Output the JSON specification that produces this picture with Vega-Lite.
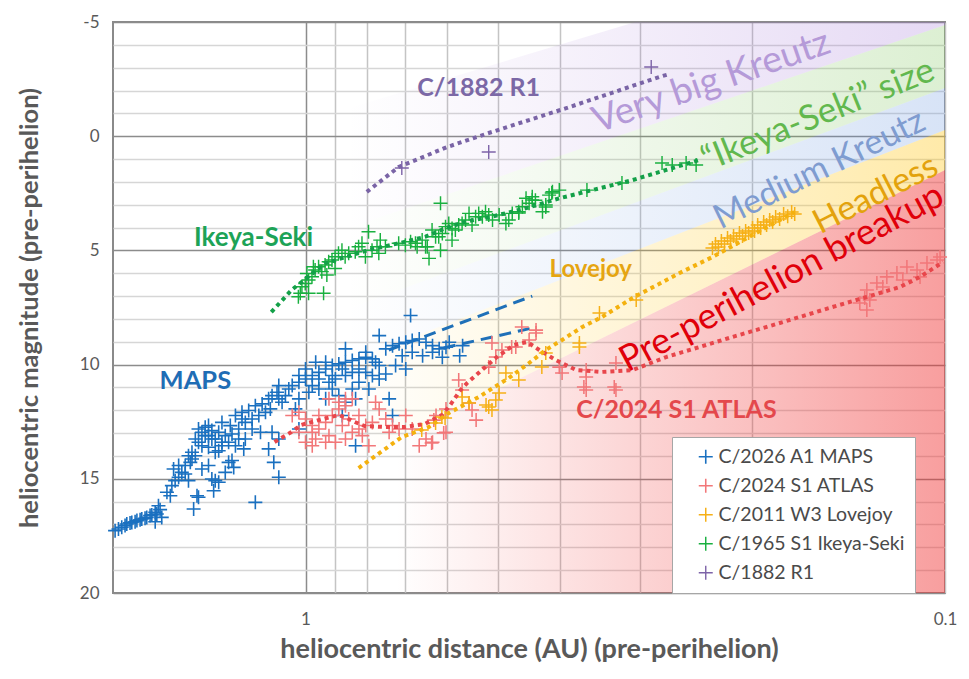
{
  "$schema": "https://vega.github.io/schema/vega-lite/v6.json",
  "width": 832,
  "height": 571,
  "autosize": {"type": "none"},
  "padding": {"left": 113, "top": 22, "right": 24, "bottom": 86},
  "config": {
    "font": "Lato",
    "view": {"stroke": "#8a8a8a", "strokeWidth": 2}
  },
  "datasets": {
    "bands": [
      {"band": "purple", "d": 0.1, "mag": -9.07, "mag2": -4.87},
      {"band": "purple", "d": 2, "mag": 1.87, "mag2": 7.52},
      {"band": "green", "d": 0.1, "mag": -4.87, "mag2": -2.11},
      {"band": "green", "d": 2, "mag": 7.52, "mag2": 11.37},
      {"band": "blue", "d": 0.1, "mag": -2.11, "mag2": -0.27},
      {"band": "blue", "d": 2, "mag": 11.37, "mag2": 13.91},
      {"band": "yellow", "d": 0.1, "mag": -0.27, "mag2": 1.48},
      {"band": "yellow", "d": 2, "mag": 13.91, "mag2": 19.34},
      {"band": "red", "d": 0.1, "mag": 1.48, "mag2": 20},
      {"band": "red", "d": 2, "mag": 19.34, "mag2": 20}
    ],
    "trends": [
      {"series": "maps_a", "d": 0.741, "mag": 9.36}, {"series": "maps_a", "d": 0.442, "mag": 7.0},
      {"series": "maps_b", "d": 0.608, "mag": 9.27}, {"series": "maps_b", "d": 0.442, "mag": 8.4},
      {"series": "atlas", "d": 1.118, "mag": 13.39}, {"series": "atlas", "d": 1.052, "mag": 12.95},
      {"series": "atlas", "d": 1.015, "mag": 12.64}, {"series": "atlas", "d": 0.954, "mag": 12.43},
      {"series": "atlas", "d": 0.888, "mag": 12.21}, {"series": "atlas", "d": 0.869, "mag": 12.29},
      {"series": "atlas", "d": 0.838, "mag": 12.51}, {"series": "atlas", "d": 0.808, "mag": 12.69},
      {"series": "atlas", "d": 0.752, "mag": 12.73}, {"series": "atlas", "d": 0.7, "mag": 12.73},
      {"series": "atlas", "d": 0.651, "mag": 12.6}, {"series": "atlas", "d": 0.612, "mag": 12.21},
      {"series": "atlas", "d": 0.597, "mag": 11.86}, {"series": "atlas", "d": 0.572, "mag": 11.11},
      {"series": "atlas", "d": 0.559, "mag": 10.81}, {"series": "atlas", "d": 0.53, "mag": 10.24},
      {"series": "atlas", "d": 0.502, "mag": 9.67}, {"series": "atlas", "d": 0.472, "mag": 9.14},
      {"series": "atlas", "d": 0.45, "mag": 9.01}, {"series": "atlas", "d": 0.431, "mag": 9.36},
      {"series": "atlas", "d": 0.406, "mag": 9.8}, {"series": "atlas", "d": 0.377, "mag": 10.24},
      {"series": "atlas", "d": 0.344, "mag": 10.32}, {"series": "atlas", "d": 0.308, "mag": 10.24},
      {"series": "atlas", "d": 0.273, "mag": 9.67}, {"series": "atlas", "d": 0.242, "mag": 9.23},
      {"series": "atlas", "d": 0.215, "mag": 8.79}, {"series": "atlas", "d": 0.19, "mag": 8.35},
      {"series": "atlas", "d": 0.169, "mag": 7.92}, {"series": "atlas", "d": 0.15, "mag": 7.48},
      {"series": "atlas", "d": 0.1325, "mag": 7.04}, {"series": "atlas", "d": 0.1176, "mag": 6.6},
      {"series": "atlas", "d": 0.1094, "mag": 6.16}, {"series": "atlas", "d": 0.1007, "mag": 5.51},
      {"series": "lovejoy", "d": 0.826, "mag": 14.53}, {"series": "lovejoy", "d": 0.707, "mag": 13.17},
      {"series": "lovejoy", "d": 0.641, "mag": 12.73}, {"series": "lovejoy", "d": 0.597, "mag": 12.12},
      {"series": "lovejoy", "d": 0.536, "mag": 11.42}, {"series": "lovejoy", "d": 0.481, "mag": 10.59},
      {"series": "lovejoy", "d": 0.447, "mag": 9.93}, {"series": "lovejoy", "d": 0.421, "mag": 9.36},
      {"series": "lovejoy", "d": 0.397, "mag": 8.92}, {"series": "lovejoy", "d": 0.369, "mag": 8.35},
      {"series": "lovejoy", "d": 0.344, "mag": 7.92}, {"series": "lovejoy", "d": 0.308, "mag": 7.08},
      {"series": "lovejoy", "d": 0.26, "mag": 5.99}, {"series": "lovejoy", "d": 0.231, "mag": 5.29},
      {"series": "lovejoy", "d": 0.172, "mag": 3.32},
      {"series": "ikeya", "d": 1.131, "mag": 7.7}, {"series": "ikeya", "d": 1.051, "mag": 6.73},
      {"series": "ikeya", "d": 0.932, "mag": 5.57}, {"series": "ikeya", "d": 0.797, "mag": 4.98},
      {"series": "ikeya", "d": 0.715, "mag": 4.69}, {"series": "ikeya", "d": 0.649, "mag": 4.4},
      {"series": "ikeya", "d": 0.604, "mag": 4.03}, {"series": "ikeya", "d": 0.562, "mag": 3.74},
      {"series": "ikeya", "d": 0.511, "mag": 3.52}, {"series": "ikeya", "d": 0.453, "mag": 3.16},
      {"series": "ikeya", "d": 0.401, "mag": 2.72}, {"series": "ikeya", "d": 0.308, "mag": 1.92},
      {"series": "ikeya", "d": 0.242, "mag": 1.04},
      {"series": "r1", "d": 0.802, "mag": 2.44}, {"series": "r1", "d": 0.715, "mag": 1.35},
      {"series": "r1", "d": 0.6, "mag": 0.47}, {"series": "r1", "d": 0.517, "mag": -0.14},
      {"series": "r1", "d": 0.391, "mag": -1.23}, {"series": "r1", "d": 0.28, "mag": -2.59},
      {"series": "r1", "d": 0.27, "mag": -2.72}
    ],
    "labels": [
      {"text": "C/1882 R1", "d": 0.536, "mag": -2.11},
      {"text": "Ikeya-Seki", "d": 1.206, "mag": 4.46},
      {"text": "MAPS", "d": 1.487, "mag": 10.72},
      {"text": "Lovejoy", "d": 0.358, "mag": 5.86},
      {"text": "C/2024 S1 ATLAS", "d": 0.263, "mag": 11.99},
      {"text": "Very big Kreutz", "d": 0.2318, "mag": -2.37},
      {"text": "“Ikeya-Seki” size", "d": 0.158, "mag": -0.93},
      {"text": "Medium Kreutz", "d": 0.157, "mag": 1.48},
      {"text": "Headless", "d": 0.1283, "mag": 2.57},
      {"text": "Pre-perihelion breakup", "d": 0.18, "mag": 6.21}
    ],
    "points": [
      {"comet": "C/2026 A1 MAPS", "d": 1.985, "mag": 17.27}, {"comet": "C/2026 A1 MAPS", "d": 1.961, "mag": 17.2},
      {"comet": "C/2026 A1 MAPS", "d": 1.938, "mag": 17.12}, {"comet": "C/2026 A1 MAPS", "d": 1.915, "mag": 17.05},
      {"comet": "C/2026 A1 MAPS", "d": 1.903, "mag": 16.98}, {"comet": "C/2026 A1 MAPS", "d": 1.881, "mag": 16.93},
      {"comet": "C/2026 A1 MAPS", "d": 1.869, "mag": 16.91}, {"comet": "C/2026 A1 MAPS", "d": 1.847, "mag": 16.88},
      {"comet": "C/2026 A1 MAPS", "d": 1.835, "mag": 16.83}, {"comet": "C/2026 A1 MAPS", "d": 1.814, "mag": 16.79},
      {"comet": "C/2026 A1 MAPS", "d": 1.803, "mag": 16.76}, {"comet": "C/2026 A1 MAPS", "d": 1.782, "mag": 16.73},
      {"comet": "C/2026 A1 MAPS", "d": 1.771, "mag": 16.69}, {"comet": "C/2026 A1 MAPS", "d": 1.75, "mag": 16.61},
      {"comet": "C/2026 A1 MAPS", "d": 1.739, "mag": 16.58}, {"comet": "C/2026 A1 MAPS", "d": 1.718, "mag": 16.47},
      {"comet": "C/2026 A1 MAPS", "d": 1.708, "mag": 16.54}, {"comet": "C/2026 A1 MAPS", "d": 1.688, "mag": 16.35},
      {"comet": "C/2026 A1 MAPS", "d": 1.678, "mag": 16.69}, {"comet": "C/2026 A1 MAPS", "d": 1.718, "mag": 16.88},
      {"comet": "C/2026 A1 MAPS", "d": 1.698, "mag": 16.18}, {"comet": "C/2026 A1 MAPS", "d": 1.647, "mag": 15.59},
      {"comet": "C/2026 A1 MAPS", "d": 1.627, "mag": 15.74}, {"comet": "C/2026 A1 MAPS", "d": 1.618, "mag": 15.3},
      {"comet": "C/2026 A1 MAPS", "d": 1.599, "mag": 15.08}, {"comet": "C/2026 A1 MAPS", "d": 1.579, "mag": 14.93},
      {"comet": "C/2026 A1 MAPS", "d": 1.561, "mag": 14.72}, {"comet": "C/2026 A1 MAPS", "d": 1.608, "mag": 14.57},
      {"comet": "C/2026 A1 MAPS", "d": 1.542, "mag": 14.79}, {"comet": "C/2026 A1 MAPS", "d": 1.524, "mag": 15.08},
      {"comet": "C/2026 A1 MAPS", "d": 1.514, "mag": 14.28}, {"comet": "C/2026 A1 MAPS", "d": 1.505, "mag": 14.13},
      {"comet": "C/2026 A1 MAPS", "d": 1.487, "mag": 13.99}, {"comet": "C/2026 A1 MAPS", "d": 1.579, "mag": 14.42},
      {"comet": "C/2026 A1 MAPS", "d": 1.478, "mag": 15.74}, {"comet": "C/2026 A1 MAPS", "d": 1.496, "mag": 16.32},
      {"comet": "C/2026 A1 MAPS", "d": 1.47, "mag": 15.81}, {"comet": "C/2026 A1 MAPS", "d": 1.401, "mag": 15.01},
      {"comet": "C/2026 A1 MAPS", "d": 1.367, "mag": 15.15}, {"comet": "C/2026 A1 MAPS", "d": 1.392, "mag": 15.52},
      {"comet": "C/2026 A1 MAPS", "d": 1.384, "mag": 15.08}, {"comet": "C/2026 A1 MAPS", "d": 1.319, "mag": 14.28},
      {"comet": "C/2026 A1 MAPS", "d": 1.295, "mag": 14.5}, {"comet": "C/2026 A1 MAPS", "d": 1.335, "mag": 14.72},
      {"comet": "C/2026 A1 MAPS", "d": 1.303, "mag": 14.2}, {"comet": "C/2026 A1 MAPS", "d": 1.418, "mag": 14.42},
      {"comet": "C/2026 A1 MAPS", "d": 1.452, "mag": 14.57}, {"comet": "C/2026 A1 MAPS", "d": 1.542, "mag": 14.42},
      {"comet": "C/2026 A1 MAPS", "d": 1.47, "mag": 12.82}, {"comet": "C/2026 A1 MAPS", "d": 1.452, "mag": 12.96},
      {"comet": "C/2026 A1 MAPS", "d": 1.435, "mag": 12.74}, {"comet": "C/2026 A1 MAPS", "d": 1.418, "mag": 13.11},
      {"comet": "C/2026 A1 MAPS", "d": 1.401, "mag": 12.89}, {"comet": "C/2026 A1 MAPS", "d": 1.384, "mag": 13.26},
      {"comet": "C/2026 A1 MAPS", "d": 1.367, "mag": 12.96}, {"comet": "C/2026 A1 MAPS", "d": 1.351, "mag": 13.4},
      {"comet": "C/2026 A1 MAPS", "d": 1.335, "mag": 13.11}, {"comet": "C/2026 A1 MAPS", "d": 1.319, "mag": 13.4},
      {"comet": "C/2026 A1 MAPS", "d": 1.303, "mag": 13.04}, {"comet": "C/2026 A1 MAPS", "d": 1.287, "mag": 13.55},
      {"comet": "C/2026 A1 MAPS", "d": 1.272, "mag": 13.26}, {"comet": "C/2026 A1 MAPS", "d": 1.401, "mag": 13.26},
      {"comet": "C/2026 A1 MAPS", "d": 1.435, "mag": 13.11}, {"comet": "C/2026 A1 MAPS", "d": 1.452, "mag": 13.55},
      {"comet": "C/2026 A1 MAPS", "d": 1.418, "mag": 13.62}, {"comet": "C/2026 A1 MAPS", "d": 1.351, "mag": 13.55},
      {"comet": "C/2026 A1 MAPS", "d": 1.487, "mag": 13.26}, {"comet": "C/2026 A1 MAPS", "d": 1.384, "mag": 13.84},
      {"comet": "C/2026 A1 MAPS", "d": 1.249, "mag": 13.69}, {"comet": "C/2026 A1 MAPS", "d": 1.242, "mag": 13.26},
      {"comet": "C/2026 A1 MAPS", "d": 1.272, "mag": 12.82}, {"comet": "C/2026 A1 MAPS", "d": 1.311, "mag": 12.67},
      {"comet": "C/2026 A1 MAPS", "d": 1.351, "mag": 12.53}, {"comet": "C/2026 A1 MAPS", "d": 1.418, "mag": 12.67},
      {"comet": "C/2026 A1 MAPS", "d": 1.47, "mag": 13.4}, {"comet": "C/2026 A1 MAPS", "d": 1.505, "mag": 13.84},
      {"comet": "C/2026 A1 MAPS", "d": 1.524, "mag": 13.99}, {"comet": "C/2026 A1 MAPS", "d": 1.367, "mag": 13.77},
      {"comet": "C/2026 A1 MAPS", "d": 1.287, "mag": 12.23}, {"comet": "C/2026 A1 MAPS", "d": 1.257, "mag": 12.09},
      {"comet": "C/2026 A1 MAPS", "d": 1.227, "mag": 12.01}, {"comet": "C/2026 A1 MAPS", "d": 1.198, "mag": 11.8},
      {"comet": "C/2026 A1 MAPS", "d": 1.169, "mag": 11.72}, {"comet": "C/2026 A1 MAPS", "d": 1.142, "mag": 11.5},
      {"comet": "C/2026 A1 MAPS", "d": 1.128, "mag": 11.36}, {"comet": "C/2026 A1 MAPS", "d": 1.108, "mag": 11.21},
      {"comet": "C/2026 A1 MAPS", "d": 1.101, "mag": 11.5}, {"comet": "C/2026 A1 MAPS", "d": 1.155, "mag": 12.09},
      {"comet": "C/2026 A1 MAPS", "d": 1.183, "mag": 12.23}, {"comet": "C/2026 A1 MAPS", "d": 1.212, "mag": 12.38},
      {"comet": "C/2026 A1 MAPS", "d": 1.088, "mag": 11.65}, {"comet": "C/2026 A1 MAPS", "d": 1.075, "mag": 11.36},
      {"comet": "C/2026 A1 MAPS", "d": 1.062, "mag": 11.07}, {"comet": "C/2026 A1 MAPS", "d": 1.049, "mag": 10.92},
      {"comet": "C/2026 A1 MAPS", "d": 1.101, "mag": 10.92}, {"comet": "C/2026 A1 MAPS", "d": 1.135, "mag": 11.94},
      {"comet": "C/2026 A1 MAPS", "d": 1.176, "mag": 12.96}, {"comet": "C/2026 A1 MAPS", "d": 1.128, "mag": 12.96},
      {"comet": "C/2026 A1 MAPS", "d": 1.101, "mag": 13.26}, {"comet": "C/2026 A1 MAPS", "d": 1.142, "mag": 13.69},
      {"comet": "C/2026 A1 MAPS", "d": 1.242, "mag": 12.53}, {"comet": "C/2026 A1 MAPS", "d": 1.212, "mag": 12.82},
      {"comet": "C/2026 A1 MAPS", "d": 1.257, "mag": 12.38}, {"comet": "C/2026 A1 MAPS", "d": 1.121, "mag": 14.28},
      {"comet": "C/2026 A1 MAPS", "d": 1.101, "mag": 14.93}, {"comet": "C/2026 A1 MAPS", "d": 1.198, "mag": 16.03},
      {"comet": "C/2026 A1 MAPS", "d": 1.024, "mag": 12.82}, {"comet": "C/2026 A1 MAPS", "d": 0.835, "mag": 13.55},
      {"comet": "C/2026 A1 MAPS", "d": 1.024, "mag": 10.77}, {"comet": "C/2026 A1 MAPS", "d": 1.0, "mag": 10.63},
      {"comet": "C/2026 A1 MAPS", "d": 0.976, "mag": 10.48}, {"comet": "C/2026 A1 MAPS", "d": 0.953, "mag": 10.34},
      {"comet": "C/2026 A1 MAPS", "d": 0.93, "mag": 10.19}, {"comet": "C/2026 A1 MAPS", "d": 0.908, "mag": 10.04},
      {"comet": "C/2026 A1 MAPS", "d": 0.887, "mag": 9.97}, {"comet": "C/2026 A1 MAPS", "d": 0.866, "mag": 9.9},
      {"comet": "C/2026 A1 MAPS", "d": 0.845, "mag": 9.82}, {"comet": "C/2026 A1 MAPS", "d": 0.825, "mag": 9.75},
      {"comet": "C/2026 A1 MAPS", "d": 0.805, "mag": 9.68}, {"comet": "C/2026 A1 MAPS", "d": 0.786, "mag": 9.75},
      {"comet": "C/2026 A1 MAPS", "d": 0.777, "mag": 9.9}, {"comet": "C/2026 A1 MAPS", "d": 0.976, "mag": 10.92},
      {"comet": "C/2026 A1 MAPS", "d": 0.953, "mag": 11.07}, {"comet": "C/2026 A1 MAPS", "d": 0.919, "mag": 10.77},
      {"comet": "C/2026 A1 MAPS", "d": 0.898, "mag": 10.63}, {"comet": "C/2026 A1 MAPS", "d": 0.866, "mag": 10.48},
      {"comet": "C/2026 A1 MAPS", "d": 0.845, "mag": 10.34}, {"comet": "C/2026 A1 MAPS", "d": 0.825, "mag": 10.77},
      {"comet": "C/2026 A1 MAPS", "d": 0.805, "mag": 10.34}, {"comet": "C/2026 A1 MAPS", "d": 0.786, "mag": 10.48},
      {"comet": "C/2026 A1 MAPS", "d": 0.767, "mag": 10.04}, {"comet": "C/2026 A1 MAPS", "d": 0.93, "mag": 9.9},
      {"comet": "C/2026 A1 MAPS", "d": 0.964, "mag": 9.9}, {"comet": "C/2026 A1 MAPS", "d": 0.988, "mag": 11.21},
      {"comet": "C/2026 A1 MAPS", "d": 1.024, "mag": 11.5}, {"comet": "C/2026 A1 MAPS", "d": 1.037, "mag": 11.94},
      {"comet": "C/2026 A1 MAPS", "d": 0.93, "mag": 11.5}, {"comet": "C/2026 A1 MAPS", "d": 0.887, "mag": 11.36},
      {"comet": "C/2026 A1 MAPS", "d": 0.866, "mag": 11.65}, {"comet": "C/2026 A1 MAPS", "d": 0.835, "mag": 11.5},
      {"comet": "C/2026 A1 MAPS", "d": 0.876, "mag": 12.23}, {"comet": "C/2026 A1 MAPS", "d": 0.845, "mag": 11.07},
      {"comet": "C/2026 A1 MAPS", "d": 0.796, "mag": 11.07}, {"comet": "C/2026 A1 MAPS", "d": 0.767, "mag": 10.63},
      {"comet": "C/2026 A1 MAPS", "d": 0.749, "mag": 10.41}, {"comet": "C/2026 A1 MAPS", "d": 0.74, "mag": 11.5},
      {"comet": "C/2026 A1 MAPS", "d": 0.731, "mag": 12.23}, {"comet": "C/2026 A1 MAPS", "d": 0.866, "mag": 9.31},
      {"comet": "C/2026 A1 MAPS", "d": 0.805, "mag": 9.46}, {"comet": "C/2026 A1 MAPS", "d": 1.0, "mag": 10.19},
      {"comet": "C/2026 A1 MAPS", "d": 1.024, "mag": 10.48}, {"comet": "C/2026 A1 MAPS", "d": 0.953, "mag": 10.63},
      {"comet": "C/2026 A1 MAPS", "d": 0.908, "mag": 10.48}, {"comet": "C/2026 A1 MAPS", "d": 0.876, "mag": 10.19},
      {"comet": "C/2026 A1 MAPS", "d": 0.825, "mag": 10.19}, {"comet": "C/2026 A1 MAPS", "d": 0.908, "mag": 11.07},
      {"comet": "C/2026 A1 MAPS", "d": 0.749, "mag": 9.31}, {"comet": "C/2026 A1 MAPS", "d": 0.731, "mag": 9.17},
      {"comet": "C/2026 A1 MAPS", "d": 0.714, "mag": 9.09}, {"comet": "C/2026 A1 MAPS", "d": 0.697, "mag": 9.02},
      {"comet": "C/2026 A1 MAPS", "d": 0.681, "mag": 8.95}, {"comet": "C/2026 A1 MAPS", "d": 0.664, "mag": 8.88},
      {"comet": "C/2026 A1 MAPS", "d": 0.648, "mag": 9.02}, {"comet": "C/2026 A1 MAPS", "d": 0.633, "mag": 9.17},
      {"comet": "C/2026 A1 MAPS", "d": 0.618, "mag": 9.31}, {"comet": "C/2026 A1 MAPS", "d": 0.603, "mag": 9.24},
      {"comet": "C/2026 A1 MAPS", "d": 0.706, "mag": 9.61}, {"comet": "C/2026 A1 MAPS", "d": 0.681, "mag": 9.46},
      {"comet": "C/2026 A1 MAPS", "d": 0.656, "mag": 9.61}, {"comet": "C/2026 A1 MAPS", "d": 0.633, "mag": 9.46},
      {"comet": "C/2026 A1 MAPS", "d": 0.611, "mag": 9.68}, {"comet": "C/2026 A1 MAPS", "d": 0.723, "mag": 10.04},
      {"comet": "C/2026 A1 MAPS", "d": 0.697, "mag": 10.19}, {"comet": "C/2026 A1 MAPS", "d": 0.767, "mag": 8.73},
      {"comet": "C/2026 A1 MAPS", "d": 0.685, "mag": 7.85}, {"comet": "C/2026 A1 MAPS", "d": 0.596, "mag": 9.02},
      {"comet": "C/2026 A1 MAPS", "d": 0.568, "mag": 9.17}, {"comet": "C/2026 A1 MAPS", "d": 0.574, "mag": 9.61},
      {"comet": "C/2024 S1 ATLAS", "d": 1.049, "mag": 12.23}, {"comet": "C/2024 S1 ATLAS", "d": 1.024, "mag": 12.09},
      {"comet": "C/2024 S1 ATLAS", "d": 1.0, "mag": 12.38}, {"comet": "C/2024 S1 ATLAS", "d": 0.976, "mag": 12.67},
      {"comet": "C/2024 S1 ATLAS", "d": 0.953, "mag": 12.82}, {"comet": "C/2024 S1 ATLAS", "d": 0.93, "mag": 12.53},
      {"comet": "C/2024 S1 ATLAS", "d": 0.908, "mag": 12.23}, {"comet": "C/2024 S1 ATLAS", "d": 0.887, "mag": 11.94},
      {"comet": "C/2024 S1 ATLAS", "d": 0.866, "mag": 11.8}, {"comet": "C/2024 S1 ATLAS", "d": 0.845, "mag": 11.5},
      {"comet": "C/2024 S1 ATLAS", "d": 0.876, "mag": 12.67}, {"comet": "C/2024 S1 ATLAS", "d": 0.919, "mag": 13.11},
      {"comet": "C/2024 S1 ATLAS", "d": 0.964, "mag": 13.26}, {"comet": "C/2024 S1 ATLAS", "d": 1.0, "mag": 13.4},
      {"comet": "C/2024 S1 ATLAS", "d": 1.024, "mag": 12.96}, {"comet": "C/2024 S1 ATLAS", "d": 0.976, "mag": 13.55},
      {"comet": "C/2024 S1 ATLAS", "d": 0.93, "mag": 13.4}, {"comet": "C/2024 S1 ATLAS", "d": 0.898, "mag": 13.4},
      {"comet": "C/2024 S1 ATLAS", "d": 0.866, "mag": 13.26}, {"comet": "C/2024 S1 ATLAS", "d": 0.845, "mag": 12.96},
      {"comet": "C/2024 S1 ATLAS", "d": 0.825, "mag": 12.82}, {"comet": "C/2024 S1 ATLAS", "d": 0.805, "mag": 12.67},
      {"comet": "C/2024 S1 ATLAS", "d": 0.786, "mag": 12.53}, {"comet": "C/2024 S1 ATLAS", "d": 0.767, "mag": 11.94},
      {"comet": "C/2024 S1 ATLAS", "d": 0.777, "mag": 11.65}, {"comet": "C/2024 S1 ATLAS", "d": 0.749, "mag": 12.38},
      {"comet": "C/2024 S1 ATLAS", "d": 0.731, "mag": 12.67}, {"comet": "C/2024 S1 ATLAS", "d": 0.714, "mag": 12.82},
      {"comet": "C/2024 S1 ATLAS", "d": 0.697, "mag": 12.23}, {"comet": "C/2024 S1 ATLAS", "d": 0.681, "mag": 12.82},
      {"comet": "C/2024 S1 ATLAS", "d": 0.664, "mag": 13.55}, {"comet": "C/2024 S1 ATLAS", "d": 0.648, "mag": 13.26},
      {"comet": "C/2024 S1 ATLAS", "d": 0.633, "mag": 13.4}, {"comet": "C/2024 S1 ATLAS", "d": 0.625, "mag": 12.23},
      {"comet": "C/2024 S1 ATLAS", "d": 0.603, "mag": 12.96}, {"comet": "C/2024 S1 ATLAS", "d": 0.603, "mag": 11.94},
      {"comet": "C/2024 S1 ATLAS", "d": 0.815, "mag": 13.11}, {"comet": "C/2024 S1 ATLAS", "d": 0.796, "mag": 13.55},
      {"comet": "C/2024 S1 ATLAS", "d": 0.74, "mag": 12.96}, {"comet": "C/2024 S1 ATLAS", "d": 0.919, "mag": 11.5},
      {"comet": "C/2024 S1 ATLAS", "d": 0.976, "mag": 12.96}, {"comet": "C/2024 S1 ATLAS", "d": 0.953, "mag": 12.23},
      {"comet": "C/2024 S1 ATLAS", "d": 0.856, "mag": 12.38}, {"comet": "C/2024 S1 ATLAS", "d": 0.825, "mag": 12.23},
      {"comet": "C/2024 S1 ATLAS", "d": 0.887, "mag": 11.65}, {"comet": "C/2024 S1 ATLAS", "d": 0.866, "mag": 11.5},
      {"comet": "C/2024 S1 ATLAS", "d": 0.635, "mag": 13.43}, {"comet": "C/2024 S1 ATLAS", "d": 0.608, "mag": 12.99},
      {"comet": "C/2024 S1 ATLAS", "d": 0.63, "mag": 12.43}, {"comet": "C/2024 S1 ATLAS", "d": 0.576, "mag": 10.67},
      {"comet": "C/2024 S1 ATLAS", "d": 0.569, "mag": 11.11}, {"comet": "C/2024 S1 ATLAS", "d": 0.555, "mag": 11.68},
      {"comet": "C/2024 S1 ATLAS", "d": 0.541, "mag": 12.43}, {"comet": "C/2024 S1 ATLAS", "d": 0.549, "mag": 11.99},
      {"comet": "C/2024 S1 ATLAS", "d": 0.517, "mag": 10.11}, {"comet": "C/2024 S1 ATLAS", "d": 0.511, "mag": 9.05},
      {"comet": "C/2024 S1 ATLAS", "d": 0.504, "mag": 9.67}, {"comet": "C/2024 S1 ATLAS", "d": 0.493, "mag": 9.36},
      {"comet": "C/2024 S1 ATLAS", "d": 0.469, "mag": 9.23}, {"comet": "C/2024 S1 ATLAS", "d": 0.476, "mag": 9.23},
      {"comet": "C/2024 S1 ATLAS", "d": 0.459, "mag": 8.35}, {"comet": "C/2024 S1 ATLAS", "d": 0.447, "mag": 8.92},
      {"comet": "C/2024 S1 ATLAS", "d": 0.436, "mag": 8.49}, {"comet": "C/2024 S1 ATLAS", "d": 0.401, "mag": 10.11},
      {"comet": "C/2024 S1 ATLAS", "d": 0.397, "mag": 10.37}, {"comet": "C/2024 S1 ATLAS", "d": 0.364, "mag": 10.24},
      {"comet": "C/2024 S1 ATLAS", "d": 0.367, "mag": 10.98}, {"comet": "C/2024 S1 ATLAS", "d": 0.327, "mag": 9.93},
      {"comet": "C/2024 S1 ATLAS", "d": 0.329, "mag": 10.98}, {"comet": "C/2024 S1 ATLAS", "d": 0.364, "mag": 11.11},
      {"comet": "C/2024 S1 ATLAS", "d": 0.436, "mag": 8.62}, {"comet": "C/2024 S1 ATLAS", "d": 0.364, "mag": 10.54},
      {"comet": "C/2024 S1 ATLAS", "d": 0.327, "mag": 11.11},
      {"comet": "C/2024 S1 ATLAS", "d": 0.1359, "mag": 7.3}, {"comet": "C/2024 S1 ATLAS", "d": 0.1325, "mag": 7.61},
      {"comet": "C/2024 S1 ATLAS", "d": 0.1335, "mag": 7.08}, {"comet": "C/2024 S1 ATLAS", "d": 0.1278, "mag": 6.43},
      {"comet": "C/2024 S1 ATLAS", "d": 0.1251, "mag": 6.6}, {"comet": "C/2024 S1 ATLAS", "d": 0.1233, "mag": 6.16},
      {"comet": "C/2024 S1 ATLAS", "d": 0.1189, "mag": 5.99}, {"comet": "C/2024 S1 ATLAS", "d": 0.1164, "mag": 6.3},
      {"comet": "C/2024 S1 ATLAS", "d": 0.1147, "mag": 5.73}, {"comet": "C/2024 S1 ATLAS", "d": 0.1106, "mag": 5.86},
      {"comet": "C/2024 S1 ATLAS", "d": 0.1094, "mag": 6.16}, {"comet": "C/2024 S1 ATLAS", "d": 0.1067, "mag": 5.55},
      {"comet": "C/2024 S1 ATLAS", "d": 0.1029, "mag": 5.42}, {"comet": "C/2024 S1 ATLAS", "d": 0.1018, "mag": 5.29},
      {"comet": "C/2024 S1 ATLAS", "d": 0.1325, "mag": 6.73}, {"comet": "C/2024 S1 ATLAS", "d": 0.1311, "mag": 7.17},
      {"comet": "C/2011 W3 Lovejoy", "d": 0.658, "mag": 12.86}, {"comet": "C/2011 W3 Lovejoy", "d": 0.626, "mag": 12.56},
      {"comet": "C/2011 W3 Lovejoy", "d": 0.612, "mag": 12.29}, {"comet": "C/2011 W3 Lovejoy", "d": 0.605, "mag": 12.34},
      {"comet": "C/2011 W3 Lovejoy", "d": 0.569, "mag": 11.42}, {"comet": "C/2011 W3 Lovejoy", "d": 0.555, "mag": 11.68},
      {"comet": "C/2011 W3 Lovejoy", "d": 0.517, "mag": 11.86}, {"comet": "C/2011 W3 Lovejoy", "d": 0.504, "mag": 11.55},
      {"comet": "C/2011 W3 Lovejoy", "d": 0.498, "mag": 11.24}, {"comet": "C/2011 W3 Lovejoy", "d": 0.486, "mag": 10.37},
      {"comet": "C/2011 W3 Lovejoy", "d": 0.464, "mag": 10.67}, {"comet": "C/2011 W3 Lovejoy", "d": 0.427, "mag": 10.11},
      {"comet": "C/2011 W3 Lovejoy", "d": 0.421, "mag": 9.49}, {"comet": "C/2011 W3 Lovejoy", "d": 0.373, "mag": 9.05},
      {"comet": "C/2011 W3 Lovejoy", "d": 0.373, "mag": 9.23}, {"comet": "C/2011 W3 Lovejoy", "d": 0.347, "mag": 7.74},
      {"comet": "C/2011 W3 Lovejoy", "d": 0.304, "mag": 7.17}, {"comet": "C/2011 W3 Lovejoy", "d": 0.522, "mag": 11.77},
      {"comet": "C/2011 W3 Lovejoy", "d": 0.511, "mag": 11.99},
      {"comet": "C/2011 W3 Lovejoy", "d": 0.231, "mag": 4.9}, {"comet": "C/2011 W3 Lovejoy", "d": 0.2285, "mag": 4.72},
      {"comet": "C/2011 W3 Lovejoy", "d": 0.2261, "mag": 4.85}, {"comet": "C/2011 W3 Lovejoy", "d": 0.2237, "mag": 4.59},
      {"comet": "C/2011 W3 Lovejoy", "d": 0.2212, "mag": 4.72}, {"comet": "C/2011 W3 Lovejoy", "d": 0.2188, "mag": 4.46},
      {"comet": "C/2011 W3 Lovejoy", "d": 0.2165, "mag": 4.59}, {"comet": "C/2011 W3 Lovejoy", "d": 0.2141, "mag": 4.37},
      {"comet": "C/2011 W3 Lovejoy", "d": 0.2118, "mag": 4.5}, {"comet": "C/2011 W3 Lovejoy", "d": 0.2096, "mag": 4.24},
      {"comet": "C/2011 W3 Lovejoy", "d": 0.2073, "mag": 4.37}, {"comet": "C/2011 W3 Lovejoy", "d": 0.205, "mag": 4.15},
      {"comet": "C/2011 W3 Lovejoy", "d": 0.2028, "mag": 4.24}, {"comet": "C/2011 W3 Lovejoy", "d": 0.2, "mag": 4.02},
      {"comet": "C/2011 W3 Lovejoy", "d": 0.1985, "mag": 4.15}, {"comet": "C/2011 W3 Lovejoy", "d": 0.1963, "mag": 3.89},
      {"comet": "C/2011 W3 Lovejoy", "d": 0.1942, "mag": 4.02}, {"comet": "C/2011 W3 Lovejoy", "d": 0.1921, "mag": 3.76},
      {"comet": "C/2011 W3 Lovejoy", "d": 0.1901, "mag": 3.89}, {"comet": "C/2011 W3 Lovejoy", "d": 0.188, "mag": 3.67},
      {"comet": "C/2011 W3 Lovejoy", "d": 0.186, "mag": 3.76}, {"comet": "C/2011 W3 Lovejoy", "d": 0.184, "mag": 3.54},
      {"comet": "C/2011 W3 Lovejoy", "d": 0.1814, "mag": 3.63}, {"comet": "C/2011 W3 Lovejoy", "d": 0.1788, "mag": 3.41},
      {"comet": "C/2011 W3 Lovejoy", "d": 0.1762, "mag": 3.5}, {"comet": "C/2011 W3 Lovejoy", "d": 0.1737, "mag": 3.32},
      {"comet": "C/2011 W3 Lovejoy", "d": 0.1718, "mag": 3.41},
      {"comet": "C/1965 S1 Ikeya-Seki", "d": 1.026, "mag": 7.03}, {"comet": "C/1965 S1 Ikeya-Seki", "d": 1.013, "mag": 6.59},
      {"comet": "C/1965 S1 Ikeya-Seki", "d": 1.001, "mag": 6.45}, {"comet": "C/1965 S1 Ikeya-Seki", "d": 0.989, "mag": 6.3},
      {"comet": "C/1965 S1 Ikeya-Seki", "d": 0.977, "mag": 6.15}, {"comet": "C/1965 S1 Ikeya-Seki", "d": 0.995, "mag": 6.01},
      {"comet": "C/1965 S1 Ikeya-Seki", "d": 0.966, "mag": 5.86}, {"comet": "C/1965 S1 Ikeya-Seki", "d": 0.954, "mag": 5.72},
      {"comet": "C/1965 S1 Ikeya-Seki", "d": 0.932, "mag": 5.64}, {"comet": "C/1965 S1 Ikeya-Seki", "d": 0.92, "mag": 5.5},
      {"comet": "C/1965 S1 Ikeya-Seki", "d": 0.909, "mag": 5.42}, {"comet": "C/1965 S1 Ikeya-Seki", "d": 0.943, "mag": 5.93},
      {"comet": "C/1965 S1 Ikeya-Seki", "d": 0.937, "mag": 6.88}, {"comet": "C/1965 S1 Ikeya-Seki", "d": 0.899, "mag": 5.28},
      {"comet": "C/1965 S1 Ikeya-Seki", "d": 0.888, "mag": 5.13}, {"comet": "C/1965 S1 Ikeya-Seki", "d": 0.877, "mag": 4.99},
      {"comet": "C/1965 S1 Ikeya-Seki", "d": 0.867, "mag": 5.28}, {"comet": "C/1965 S1 Ikeya-Seki", "d": 0.856, "mag": 5.13},
      {"comet": "C/1965 S1 Ikeya-Seki", "d": 0.836, "mag": 5.06}, {"comet": "C/1965 S1 Ikeya-Seki", "d": 0.826, "mag": 4.84},
      {"comet": "C/1965 S1 Ikeya-Seki", "d": 0.816, "mag": 4.69}, {"comet": "C/1965 S1 Ikeya-Seki", "d": 0.797, "mag": 4.18},
      {"comet": "C/1965 S1 Ikeya-Seki", "d": 0.806, "mag": 5.28}, {"comet": "C/1965 S1 Ikeya-Seki", "d": 0.787, "mag": 4.99},
      {"comet": "C/1965 S1 Ikeya-Seki", "d": 0.773, "mag": 4.84}, {"comet": "C/1965 S1 Ikeya-Seki", "d": 0.764, "mag": 4.55},
      {"comet": "C/1965 S1 Ikeya-Seki", "d": 0.75, "mag": 4.84}, {"comet": "C/1965 S1 Ikeya-Seki", "d": 0.768, "mag": 5.13},
      {"comet": "C/1965 S1 Ikeya-Seki", "d": 0.972, "mag": 5.72}, {"comet": "C/1965 S1 Ikeya-Seki", "d": 0.989, "mag": 6.88},
      {"comet": "C/1965 S1 Ikeya-Seki", "d": 1.019, "mag": 6.88}, {"comet": "C/1965 S1 Ikeya-Seki", "d": 0.926, "mag": 6.08},
      {"comet": "C/1965 S1 Ikeya-Seki", "d": 0.899, "mag": 5.79}, {"comet": "C/1965 S1 Ikeya-Seki", "d": 0.715, "mag": 4.69},
      {"comet": "C/1965 S1 Ikeya-Seki", "d": 0.698, "mag": 4.77}, {"comet": "C/1965 S1 Ikeya-Seki", "d": 0.685, "mag": 4.62},
      {"comet": "C/1965 S1 Ikeya-Seki", "d": 0.673, "mag": 4.69}, {"comet": "C/1965 S1 Ikeya-Seki", "d": 0.657, "mag": 4.55},
      {"comet": "C/1965 S1 Ikeya-Seki", "d": 0.649, "mag": 4.84}, {"comet": "C/1965 S1 Ikeya-Seki", "d": 0.641, "mag": 5.35},
      {"comet": "C/1965 S1 Ikeya-Seki", "d": 0.619, "mag": 4.4}, {"comet": "C/1965 S1 Ikeya-Seki", "d": 0.634, "mag": 4.11},
      {"comet": "C/1965 S1 Ikeya-Seki", "d": 0.626, "mag": 4.4}, {"comet": "C/1965 S1 Ikeya-Seki", "d": 0.611, "mag": 4.26},
      {"comet": "C/1965 S1 Ikeya-Seki", "d": 0.604, "mag": 3.96}, {"comet": "C/1965 S1 Ikeya-Seki", "d": 0.597, "mag": 3.82},
      {"comet": "C/1965 S1 Ikeya-Seki", "d": 0.59, "mag": 4.04}, {"comet": "C/1965 S1 Ikeya-Seki", "d": 0.583, "mag": 4.11},
      {"comet": "C/1965 S1 Ikeya-Seki", "d": 0.576, "mag": 3.89}, {"comet": "C/1965 S1 Ikeya-Seki", "d": 0.569, "mag": 3.82},
      {"comet": "C/1965 S1 Ikeya-Seki", "d": 0.562, "mag": 3.67}, {"comet": "C/1965 S1 Ikeya-Seki", "d": 0.555, "mag": 3.38},
      {"comet": "C/1965 S1 Ikeya-Seki", "d": 0.549, "mag": 3.89}, {"comet": "C/1965 S1 Ikeya-Seki", "d": 0.542, "mag": 3.53},
      {"comet": "C/1965 S1 Ikeya-Seki", "d": 0.536, "mag": 3.38}, {"comet": "C/1965 S1 Ikeya-Seki", "d": 0.529, "mag": 3.53},
      {"comet": "C/1965 S1 Ikeya-Seki", "d": 0.523, "mag": 3.31}, {"comet": "C/1965 S1 Ikeya-Seki", "d": 0.517, "mag": 3.45},
      {"comet": "C/1965 S1 Ikeya-Seki", "d": 0.51, "mag": 3.67}, {"comet": "C/1965 S1 Ikeya-Seki", "d": 0.498, "mag": 3.45},
      {"comet": "C/1965 S1 Ikeya-Seki", "d": 0.486, "mag": 3.82}, {"comet": "C/1965 S1 Ikeya-Seki", "d": 0.475, "mag": 3.38},
      {"comet": "C/1965 S1 Ikeya-Seki", "d": 0.464, "mag": 3.31}, {"comet": "C/1965 S1 Ikeya-Seki", "d": 0.458, "mag": 3.09},
      {"comet": "C/1965 S1 Ikeya-Seki", "d": 0.452, "mag": 2.72}, {"comet": "C/1965 S1 Ikeya-Seki", "d": 0.447, "mag": 2.94},
      {"comet": "C/1965 S1 Ikeya-Seki", "d": 0.442, "mag": 2.65}, {"comet": "C/1965 S1 Ikeya-Seki", "d": 0.437, "mag": 2.8},
      {"comet": "C/1965 S1 Ikeya-Seki", "d": 0.426, "mag": 3.31}, {"comet": "C/1965 S1 Ikeya-Seki", "d": 0.421, "mag": 3.01},
      {"comet": "C/1965 S1 Ikeya-Seki", "d": 0.416, "mag": 2.58}, {"comet": "C/1965 S1 Ikeya-Seki", "d": 0.411, "mag": 2.43},
      {"comet": "C/1965 S1 Ikeya-Seki", "d": 0.401, "mag": 2.36}, {"comet": "C/1965 S1 Ikeya-Seki", "d": 0.615, "mag": 2.94},
      {"comet": "C/1965 S1 Ikeya-Seki", "d": 0.59, "mag": 4.55}, {"comet": "C/1965 S1 Ikeya-Seki", "d": 0.615, "mag": 4.99},
      {"comet": "C/1965 S1 Ikeya-Seki", "d": 0.645, "mag": 4.84}, {"comet": "C/1965 S1 Ikeya-Seki", "d": 0.669, "mag": 4.84},
      {"comet": "C/1965 S1 Ikeya-Seki", "d": 0.481, "mag": 3.67}, {"comet": "C/1965 S1 Ikeya-Seki", "d": 0.464, "mag": 3.36},
      {"comet": "C/1965 S1 Ikeya-Seki", "d": 0.442, "mag": 2.79}, {"comet": "C/1965 S1 Ikeya-Seki", "d": 0.421, "mag": 3.1},
      {"comet": "C/1965 S1 Ikeya-Seki", "d": 0.412, "mag": 2.49}, {"comet": "C/1965 S1 Ikeya-Seki", "d": 0.363, "mag": 2.36},
      {"comet": "C/1965 S1 Ikeya-Seki", "d": 0.32, "mag": 2.05}, {"comet": "C/1965 S1 Ikeya-Seki", "d": 0.277, "mag": 1.17},
      {"comet": "C/1965 S1 Ikeya-Seki", "d": 0.267, "mag": 1.26}, {"comet": "C/1965 S1 Ikeya-Seki", "d": 0.254, "mag": 1.17},
      {"comet": "C/1965 S1 Ikeya-Seki", "d": 0.245, "mag": 1.26},
      {"comet": "C/1882 R1", "d": 0.707, "mag": 1.39}, {"comet": "C/1882 R1", "d": 0.517, "mag": 0.69},
      {"comet": "C/1882 R1", "d": 0.288, "mag": -3.03}
    ]
  },
  "encoding": {
    "x": {
      "field": "d",
      "type": "quantitative",
      "scale": {"type": "log", "domain": [0.1, 2], "reverse": true, "nice": false},
      "axis": {
        "title": "heliocentric distance (AU) (pre-perihelion)",
        "values": [1, 0.9, 0.8, 0.7, 0.6, 0.5, 0.4, 0.3, 0.2, 0.1],
        "labelExpr": "datum.value > 0.95 ? '1' : (datum.value < 0.105 ? '0.1' : '')",
        "labelOverlap": false,
        "labelFlush": false,
        "ticks": false,
        "domain": false,
        "grid": true,
        "gridColor": {"condition": {"test": "datum.value > 0.95", "value": "#8c8c8c"}, "value": "#c4c4c4"},
        "gridWidth": 1.5,
        "labelFontSize": 17,
        "labelColor": "#595959",
        "labelPadding": 18,
        "titleFontSize": 27,
        "titleFontWeight": "bold",
        "titleColor": "#595959",
        "titlePadding": 9
      }
    },
    "y": {
      "field": "mag",
      "type": "quantitative",
      "scale": {"domain": [-5, 20], "reverse": true, "nice": false},
      "axis": {
        "title": "heliocentric magnitude (pre-perihelion)",
        "values": [-5, -4, -3, -2, -1, 0, 1, 2, 3, 4, 5, 6, 7, 8, 9, 10, 11, 12, 13, 14, 15, 16, 17, 18, 19, 20],
        "labelExpr": "datum.value % 5 === 0 ? '' + datum.value : ''",
        "labelOverlap": false,
        "labelFlush": false,
        "ticks": false,
        "domain": false,
        "grid": true,
        "gridColor": {"condition": {"test": "datum.value % 5 === 0", "value": "#8c8c8c"}, "value": "#d6d6d6"},
        "gridWidth": 1.5,
        "labelFontSize": 17,
        "labelColor": "#595959",
        "labelPadding": 14,
        "titleFontSize": 25.5,
        "titleFontWeight": "bold",
        "titleColor": "#595959",
        "titlePadding": 37
      }
    }
  },
  "layer": [
    {
      "data": {"name": "bands"},
      "transform": [{"filter": "datum.band === 'red'"}],
      "mark": {"type": "area", "clip": true, "color": {"gradient": "linear", "x1": 0, "y1": 0, "x2": 1, "y2": 0, "stops": [{"offset": 0, "color": "rgba(240,50,50,0)"}, {"offset": 0.34, "color": "rgba(240,50,50,0)"}, {"offset": 1, "color": "rgba(240,50,50,0.47)"}]}},
      "encoding": {"y2": {"field": "mag2"}}
    },
    {
      "data": {"name": "bands"},
      "transform": [{"filter": "datum.band === 'yellow'"}],
      "mark": {"type": "area", "clip": true, "color": {"gradient": "linear", "x1": 0, "y1": 0, "x2": 1, "y2": 0, "stops": [{"offset": 0, "color": "rgba(255,200,30,0)"}, {"offset": 0.28, "color": "rgba(255,200,30,0)"}, {"offset": 1, "color": "rgba(255,200,30,0.38)"}]}},
      "encoding": {"y2": {"field": "mag2"}}
    },
    {
      "data": {"name": "bands"},
      "transform": [{"filter": "datum.band === 'blue'"}],
      "mark": {"type": "area", "clip": true, "color": {"gradient": "linear", "x1": 0, "y1": 0, "x2": 1, "y2": 0, "stops": [{"offset": 0, "color": "rgba(90,140,220,0)"}, {"offset": 0.28, "color": "rgba(90,140,220,0)"}, {"offset": 1, "color": "rgba(90,140,220,0.24)"}]}},
      "encoding": {"y2": {"field": "mag2"}}
    },
    {
      "data": {"name": "bands"},
      "transform": [{"filter": "datum.band === 'green'"}],
      "mark": {"type": "area", "clip": true, "color": {"gradient": "linear", "x1": 0, "y1": 0, "x2": 1, "y2": 0, "stops": [{"offset": 0, "color": "rgba(110,190,70,0)"}, {"offset": 0.28, "color": "rgba(110,190,70,0)"}, {"offset": 1, "color": "rgba(110,190,70,0.24)"}]}},
      "encoding": {"y2": {"field": "mag2"}}
    },
    {
      "data": {"name": "bands"},
      "transform": [{"filter": "datum.band === 'purple'"}],
      "mark": {"type": "area", "clip": true, "color": {"gradient": "linear", "x1": 0, "y1": 0, "x2": 1, "y2": 0, "stops": [{"offset": 0, "color": "rgba(150,100,210,0)"}, {"offset": 0.28, "color": "rgba(150,100,210,0)"}, {"offset": 1, "color": "rgba(150,100,210,0.24)"}]}},
      "encoding": {"y2": {"field": "mag2"}}
    },
    {
      "data": {"name": "labels"},
      "transform": [{"filter": "datum.text === 'Very big Kreutz'"}],
      "mark": {"type": "text", "angle": 341, "fontSize": 37, "color": "#b59ad8"},
      "encoding": {"text": {"field": "text"}}
    },
    {
      "data": {"name": "labels"},
      "transform": [{"filter": "datum.text === '“Ikeya-Seki” size'"}],
      "mark": {"type": "text", "angle": 338, "fontSize": 35, "color": "#62b84e"},
      "encoding": {"text": {"field": "text"}}
    },
    {
      "data": {"name": "labels"},
      "transform": [{"filter": "datum.text === 'Medium Kreutz'"}],
      "mark": {"type": "text", "angle": 334, "fontSize": 34, "color": "#7f9cd0"},
      "encoding": {"text": {"field": "text"}}
    },
    {
      "data": {"name": "labels"},
      "transform": [{"filter": "datum.text === 'Headless'"}],
      "mark": {"type": "text", "angle": 333, "fontSize": 34, "color": "#e3a20c"},
      "encoding": {"text": {"field": "text"}}
    },
    {
      "data": {"name": "labels"},
      "transform": [{"filter": "datum.text === 'Pre-perihelion breakup'"}],
      "mark": {"type": "text", "angle": 332, "fontSize": 36, "color": "#e0000a"},
      "encoding": {"text": {"field": "text"}}
    },
    {
      "data": {"name": "trends"},
      "transform": [{"filter": "datum.series === 'maps_a' || datum.series === 'maps_b'"}],
      "mark": {"type": "line", "color": "#1f70b8", "strokeWidth": 3, "strokeDash": [12, 7]},
      "encoding": {"detail": {"field": "series"}}
    },
    {
      "data": {"name": "points"},
      "mark": {"type": "point", "shape": "M-1,0H1M0,-1V1", "filled": false, "opacity": 1},
      "encoding": {
        "color": {
          "field": "comet",
          "type": "nominal",
          "scale": {
            "domain": ["C/2026 A1 MAPS", "C/2024 S1 ATLAS", "C/2011 W3 Lovejoy", "C/1965 S1 Ikeya-Seki", "C/1882 R1"],
            "range": ["#1a70c0", "#f27779", "#f6b017", "#19b03f", "#7d63a8"]
          },
          "legend": {
            "title": null,
            "orient": "none",
            "legendX": 559,
            "legendY": 415,
            "fillColor": "white",
            "strokeColor": "#a6a6a6",
            "padding": 10,
            "labelFontSize": 19.5,
            "labelColor": "#4a4a4a",
            "labelLimit": 400,
            "rowPadding": 8,
            "symbolType": "M-1,0H1M0,-1V1",
            "symbolSize": 170,
            "symbolStrokeWidth": 2,
            "symbolOffset": 14,
            "labelOffset": 3
          }
        },
        "strokeWidth": {
          "field": "comet",
          "type": "nominal",
          "legend": null,
          "scale": {
            "domain": ["C/2026 A1 MAPS", "C/2024 S1 ATLAS", "C/2011 W3 Lovejoy", "C/1965 S1 Ikeya-Seki", "C/1882 R1"],
            "range": [1.6, 1.4, 3.2, 1.6, 3]
          }
        },
        "size": {
          "field": "comet",
          "type": "nominal",
          "legend": null,
          "scale": {
            "domain": ["C/2026 A1 MAPS", "C/2024 S1 ATLAS", "C/2011 W3 Lovejoy", "C/1965 S1 Ikeya-Seki", "C/1882 R1"],
            "range": [196, 196, 256, 289, 196]
          }
        }
      }
    },
    {
      "data": {"name": "trends"},
      "transform": [{"filter": "datum.series === 'atlas'"}],
      "mark": {"type": "line", "color": "#e8464b", "strokeWidth": 4, "strokeDash": [4, 4]},
      "encoding": {}
    },
    {
      "data": {"name": "trends"},
      "transform": [{"filter": "datum.series === 'lovejoy'"}],
      "mark": {"type": "line", "color": "#f4b10e", "strokeWidth": 4, "strokeDash": [4, 4]},
      "encoding": {}
    },
    {
      "data": {"name": "trends"},
      "transform": [{"filter": "datum.series === 'ikeya'"}],
      "mark": {"type": "line", "color": "#13a048", "strokeWidth": 4, "strokeDash": [4, 4]},
      "encoding": {}
    },
    {
      "data": {"name": "trends"},
      "transform": [{"filter": "datum.series === 'r1'"}],
      "mark": {"type": "line", "color": "#7a64a6", "strokeWidth": 4, "strokeDash": [4, 4]},
      "encoding": {}
    },
    {
      "data": {"name": "labels"},
      "transform": [{"filter": "datum.text === 'C/1882 R1'"}],
      "mark": {"type": "text", "fontSize": 25, "fontWeight": "bold", "color": "#7b68a6"},
      "encoding": {"text": {"field": "text"}}
    },
    {
      "data": {"name": "labels"},
      "transform": [{"filter": "datum.text === 'Ikeya-Seki'"}],
      "mark": {"type": "text", "fontSize": 26, "fontWeight": "bold", "color": "#1da357"},
      "encoding": {"text": {"field": "text"}}
    },
    {
      "data": {"name": "labels"},
      "transform": [{"filter": "datum.text === 'MAPS'"}],
      "mark": {"type": "text", "fontSize": 25.5, "fontWeight": "bold", "color": "#1f6db5"},
      "encoding": {"text": {"field": "text"}}
    },
    {
      "data": {"name": "labels"},
      "transform": [{"filter": "datum.text === 'Lovejoy'"}],
      "mark": {"type": "text", "fontSize": 24, "fontWeight": "bold", "color": "#e5a512"},
      "encoding": {"text": {"field": "text"}}
    },
    {
      "data": {"name": "labels"},
      "transform": [{"filter": "datum.text === 'C/2024 S1 ATLAS'"}],
      "mark": {"type": "text", "fontSize": 25, "fontWeight": "bold", "color": "#e4484c"},
      "encoding": {"text": {"field": "text"}}
    }
  ]
}
